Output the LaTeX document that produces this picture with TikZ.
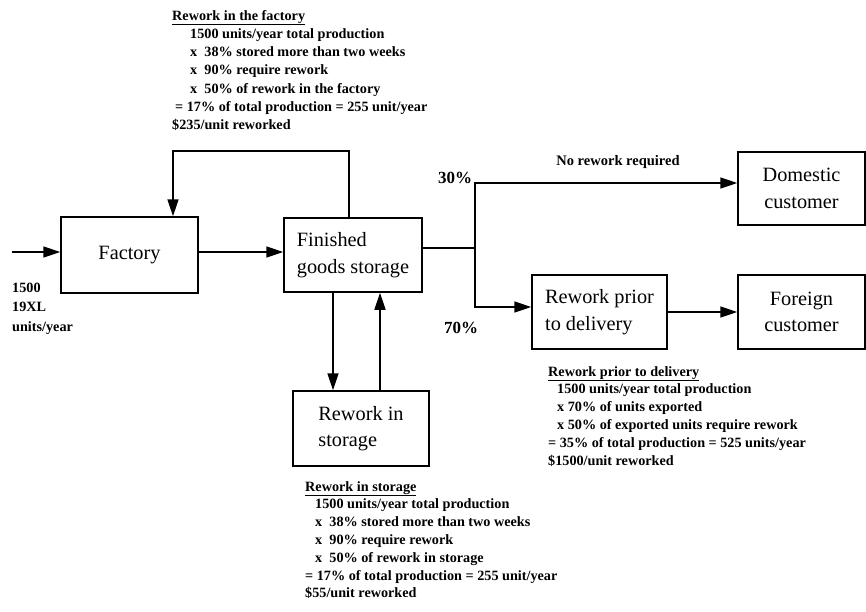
\documentclass[tikz,border=0pt]{standalone}
\usepackage{fontspec}
\setmainfont{Liberation Serif}
\usetikzlibrary{arrows.meta}
\begin{document}
\begin{tikzpicture}[x=1pt,y=-1pt,
  box/.style={draw,line width=1.5pt,inner sep=0pt,align=left,font=\fontsize{20.3}{26.5}\selectfont},
  boxc/.style={box,align=center},
  flow/.style={line width=1.6pt,-{Triangle[length=17pt,width=11pt]}},
  plain/.style={line width=1.6pt},
  ann/.style={anchor=base west,inner sep=0pt,font=\fontsize{14.2}{16}\selectfont\bfseries},
  lbl/.style={inner sep=0pt,font=\fontsize{17}{18}\selectfont\bfseries}]
\useasboundingbox (0,0) rectangle (866,611);
\fill[white] (0,0) rectangle (866,611);
% boxes
\node[boxc,minimum width=137pt,minimum height=76pt] (fac) at (129.5,255) {Factory};
\node[box,minimum width=138pt,minimum height=74pt] (fin) at (353,255) {Finished\\goods storage};
\node[box,minimum width=136pt,minimum height=75pt] (rs) at (361,428.5) {Rework in\\storage};
\node[box,minimum width=135pt,minimum height=74pt] (rp) at (599.5,312) {Rework prior\\to delivery};
\node[boxc,minimum width=127pt,minimum height=73pt] (dom) at (801.5,188.5) {Domestic\\customer};
\node[boxc,minimum width=127pt,minimum height=74pt] (for) at (801.5,312) {Foreign\\customer};
% coordinates
\coordinate (in) at (12,252);
\coordinate (f1) at (349,151);
\coordinate (f2) at (173,151);
\coordinate (dx) at (333,300);
\coordinate (ux) at (380,300);
\coordinate (j) at (475,248);
\coordinate (jt) at (475,183);
\coordinate (jb) at (475,307);
% connectors
\draw[flow] (in) -- (fac.west |- in);
\draw[flow] (fac.east |- in) -- (fin.west |- in);
\draw[flow] (fin.north -| f1) -- (f1) -- (f2) -- (f2 |- fac.north);
\draw[flow] (fin.south -| dx) -- (rs.north -| dx);
\draw[flow] (rs.north -| ux) -- (fin.south -| ux);
\draw[plain] (fin.east |- j) -- (j);
\draw[flow] (j) -- (jt) -- (dom.west |- jt);
\draw[flow] (j) -- (jb) -- (rp.west |- jb);
\draw[flow] (rp.east) -- (for.west |- rp.east);
% labels
\node[lbl] (p30) at (455,178) {30\%};
\node[lbl] (p70) at (461,328) {70\%};
\node[lbl,font=\fontsize{14.5}{16}\selectfont\bfseries] (nrr) at (618,162) {No rework required};
\node[ann] (i1) at (12,292) {1500};
\node[ann] (i2) at (12,311) {19XL};
\node[ann] (i3) at (12,331) {units/year};
% rework in the factory
\node[ann] (a0) at (172,20) {\underline{Rework in the factory}};
\node[ann] (a1) at (190,38.3) {1500 units/year total production};
\node[ann] (a2) at (190,56.6) {x\enspace38\% stored more than two weeks};
\node[ann] (a3) at (190,74.9) {x\enspace90\% require rework};
\node[ann] (a4) at (190,93.2) {x\enspace50\% of rework in the factory};
\node[ann] (a5) at (175,111.5) {= 17\% of total production = 255 unit/year};
\node[ann] (a6) at (172,129.8) {\$235/unit reworked};
% rework prior to delivery
\node[ann] (b0) at (548,376) {\underline{Rework prior to delivery}};
\node[ann] (b1) at (557,393.8) {1500 units/year total production};
\node[ann] (b2) at (557,411.6) {x 70\% of units exported};
\node[ann] (b3) at (557,429.4) {x 50\% of exported units require rework};
\node[ann] (b4) at (548,447.2) {= 35\% of total production = 525 units/year};
\node[ann] (b5) at (548,465) {\$1500/unit reworked};
% rework in storage
\node[ann] (c0) at (305,491) {\underline{Rework in storage}};
\node[ann] (c1) at (315,508.8) {1500 units/year total production};
\node[ann] (c2) at (315,526.6) {x\enspace38\% stored more than two weeks};
\node[ann] (c3) at (315,544.4) {x\enspace90\% require rework};
\node[ann] (c4) at (315,562.2) {x\enspace50\% of rework in storage};
\node[ann] (c5) at (305,580) {= 17\% of total production = 255 unit/year};
\node[ann] (c6) at (305,597.8) {\$55/unit reworked};
\end{tikzpicture}
\end{document}
